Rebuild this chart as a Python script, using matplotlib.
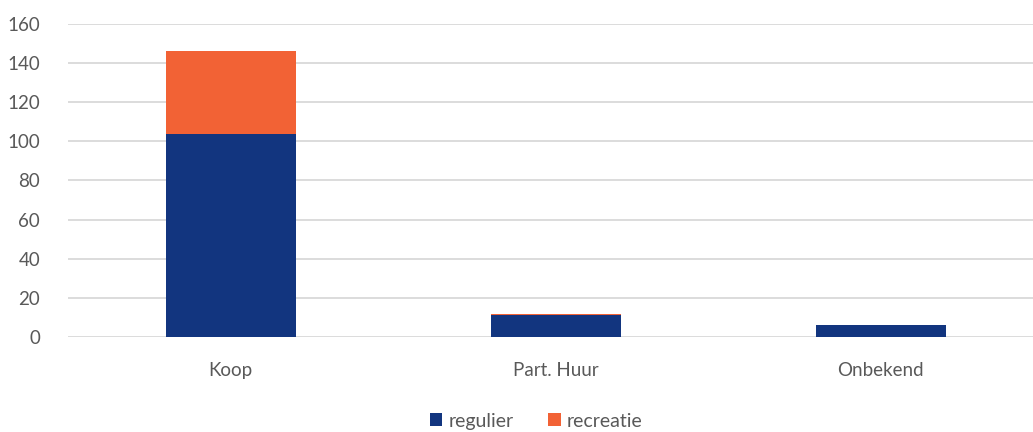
import matplotlib.pyplot as plt
import numpy as np

plt.rcParams['font.family'] = ['Lato', 'DejaVu Sans']

categories = ['Koop', 'Part. Huur', 'Onbekend']
regulier = [104, 11, 6]
recreatie = [42, 1, 0]

fig = plt.figure(figsize=(10.33, 4.32), dpi=100)
ax = fig.add_axes([68 / 1033, 95 / 432, 975 / 1033, 313 / 432])

x = np.arange(len(categories))
ax.bar(x, regulier, width=0.4, color='#12357f', label='regulier', zorder=3)
ax.bar(x, recreatie, width=0.4, bottom=regulier, color='#f26235', label='recreatie', zorder=3)

ax.set_xlim(-0.5, 2.5)
ax.set_ylim(0, 160)
ax.set_yticks(range(0, 161, 20))
ax.set_xticks(x)
ax.set_xticklabels(categories)
ax.grid(axis='y', color='#d9d9d9', linewidth=1.3, zorder=0)
for s in ax.spines.values():
    s.set_visible(False)
ax.tick_params(length=0, labelsize=13.5, labelcolor='#595959')
ax.tick_params(axis='y', pad=20)
ax.tick_params(axis='x', pad=18)

leg = fig.legend(loc='lower center', bbox_to_anchor=(0.519, -0.035), ncol=2, frameon=False,
                 fontsize=14, handlelength=0.65, handleheight=0.65, handletextpad=0.3,
                 columnspacing=1.8)
for t in leg.get_texts():
    t.set_color('#595959')

fig.savefig('out.png', dpi=100)
